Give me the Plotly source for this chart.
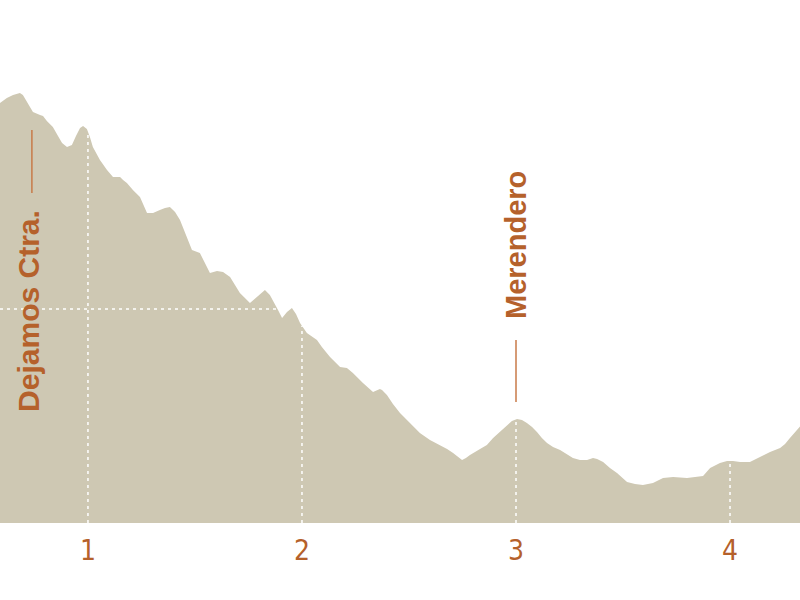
import numpy as np
import plotly.graph_objects as go

km = [0.589, 0.621, 0.650, 0.682, 0.696, 0.720, 0.743, 0.776, 0.790, 0.808, 0.836, 0.860, 0.879, 0.902, 0.925,
      0.944, 0.963, 0.977, 0.995, 1.009, 1.023, 1.056, 1.089, 1.117, 1.150, 1.164, 1.182, 1.210, 1.243, 1.276,
      1.304, 1.336, 1.360, 1.383, 1.407, 1.430, 1.458, 1.486, 1.523, 1.547, 1.570, 1.603, 1.631, 1.664, 1.687,
      1.710, 1.757, 1.794, 1.827, 1.850, 1.864, 1.888, 1.907, 1.930, 1.953, 1.972, 1.991, 2.023, 2.070, 2.093,
      2.131, 2.178, 2.210, 2.238, 2.285, 2.332, 2.364, 2.374, 2.397, 2.425, 2.458, 2.505, 2.551, 2.598, 2.645,
      2.678, 2.706, 2.729, 2.748, 2.766, 2.785, 2.832, 2.864, 2.893, 2.925, 2.958, 2.981, 3.005, 3.028, 3.051,
      3.075, 3.098, 3.121, 3.145, 3.173, 3.206, 3.238, 3.266, 3.299, 3.332, 3.360, 3.379, 3.407, 3.439, 3.472,
      3.519, 3.556, 3.593, 3.640, 3.687, 3.734, 3.799, 3.874, 3.907, 3.953, 3.986, 4.014, 4.047, 4.093, 4.140,
      4.187, 4.234, 4.257, 4.280, 4.304, 4.327, 4.350]
elev = [910, 912.5, 914, 915, 914, 910, 905.5, 904, 903.5, 901, 898, 893.5, 890, 888, 889,
        893.5, 897.5, 898.5, 897, 893, 888, 881.5, 876.5, 873, 873, 871.5, 870, 866.5, 863, 855,
        855, 856.5, 857.5, 858, 855.5, 851.5, 844, 836.5, 835, 830, 825, 826, 825.5, 823, 819,
        815, 810, 813.5, 816.5, 814, 811.5, 806.5, 802.5, 805.5, 807.5, 804.5, 800, 795, 791.5, 788,
        783, 778, 777.5, 775, 770, 765.5, 767, 766.5, 764, 759.5, 755, 750, 745, 741.5, 739,
        737, 735, 733, 731.5, 732.5, 734, 737, 739, 742.5, 745.5, 749, 751, 752, 751.5, 750,
        748, 745.5, 742.5, 740, 738, 736.5, 734.5, 732.5, 731.5, 731.5, 732.5, 732, 730.5, 727.5, 725,
        720.5, 719.5, 719, 720, 722.5, 723, 722.5, 723.5, 727.5, 730, 731, 731, 730.5, 730.5, 733,
        735.5, 737.5, 739.5, 742.5, 745.5, 748, 751]

tick_km = [1, 2, 3, 4]
tick_labels = ["1", "2", "3", "4"]

ref_elev = 807  # horizontal reference line
waypoint_km = [0.738, 3.0]
waypoint_names = ["Dejamos Ctra.", "Merendero"]

FILL = "#cec8b3"
TEXT = "#b5612b"
LINE = "#c87a48"

x_range = [0.589, 4.327]
y_range = [700, 961.5]

fig = go.Figure()
fig.add_trace(go.Scatter(x=km, y=elev, mode="lines", fill="tozeroy",
                         line=dict(color=FILL, width=0), fillcolor=FILL,
                         hoverinfo="skip", showlegend=False))

# vertical dashed lines at each km mark, up to the profile
for t in tick_km:
    h = float(np.interp(t, km, elev))
    fig.add_trace(go.Scatter(x=[t, t], y=[y_range[0], h], mode="lines",
                             line=dict(color="white", width=1.5, dash="3px,4px"),
                             hoverinfo="skip", showlegend=False))

# horizontal dotted reference line up to where the profile crosses it
km_arr = np.array(km)
el_arr = np.array(elev)
idx = int(np.argmax(el_arr < ref_elev))
x_cross = float(np.interp(ref_elev, [el_arr[idx], el_arr[idx - 1]], [km_arr[idx], km_arr[idx - 1]]))
fig.add_trace(go.Scatter(x=[x_range[0], x_cross], y=[ref_elev, ref_elev], mode="lines",
                         line=dict(color="white", width=1.5, dash="3px,4px"),
                         hoverinfo="skip", showlegend=False))

# waypoint labels
fig.add_annotation(x=waypoint_km[0], y=806, text=waypoint_names[0], textangle=-90,
                   showarrow=False, xshift=-4,
                   font=dict(family="Liberation Sans, Arial", size=30, color=TEXT, weight="bold"))
fig.add_shape(type="line", x0=waypoint_km[0], x1=waypoint_km[0], y0=865, y1=896.5,
              line=dict(color=LINE, width=1.5))
fig.add_annotation(x=waypoint_km[1], y=839, text=waypoint_names[1], textangle=-90,
                   showarrow=False,
                   font=dict(family="Liberation Sans, Arial", size=29, color=TEXT, weight="bold"))
fig.add_shape(type="line", x0=waypoint_km[1], x1=waypoint_km[1], y0=760.5, y1=791.5,
              line=dict(color=LINE, width=1.5))

fig.update_layout(
    width=800, height=600,
    margin=dict(l=0, r=0, t=0, b=77, autoexpand=False),
    paper_bgcolor="white", plot_bgcolor="white",
    showlegend=False,
    xaxis=dict(range=x_range, tickvals=tick_km, ticktext=tick_labels, ticks="",
               showgrid=False, zeroline=False, showline=False, automargin=False,
               ticklabelstandoff=8,
               tickfont=dict(family="Liberation Sans Narrow, DejaVu Sans Condensed, Arial", size=28, color=TEXT)),
    yaxis=dict(range=y_range, showticklabels=False, showgrid=False, zeroline=False, showline=False,
               automargin=False),
)

fig.write_html("out.html", config={"displayModeBar": False},
               post_script="document.body.style.margin='0';document.body.style.overflow='hidden';")
